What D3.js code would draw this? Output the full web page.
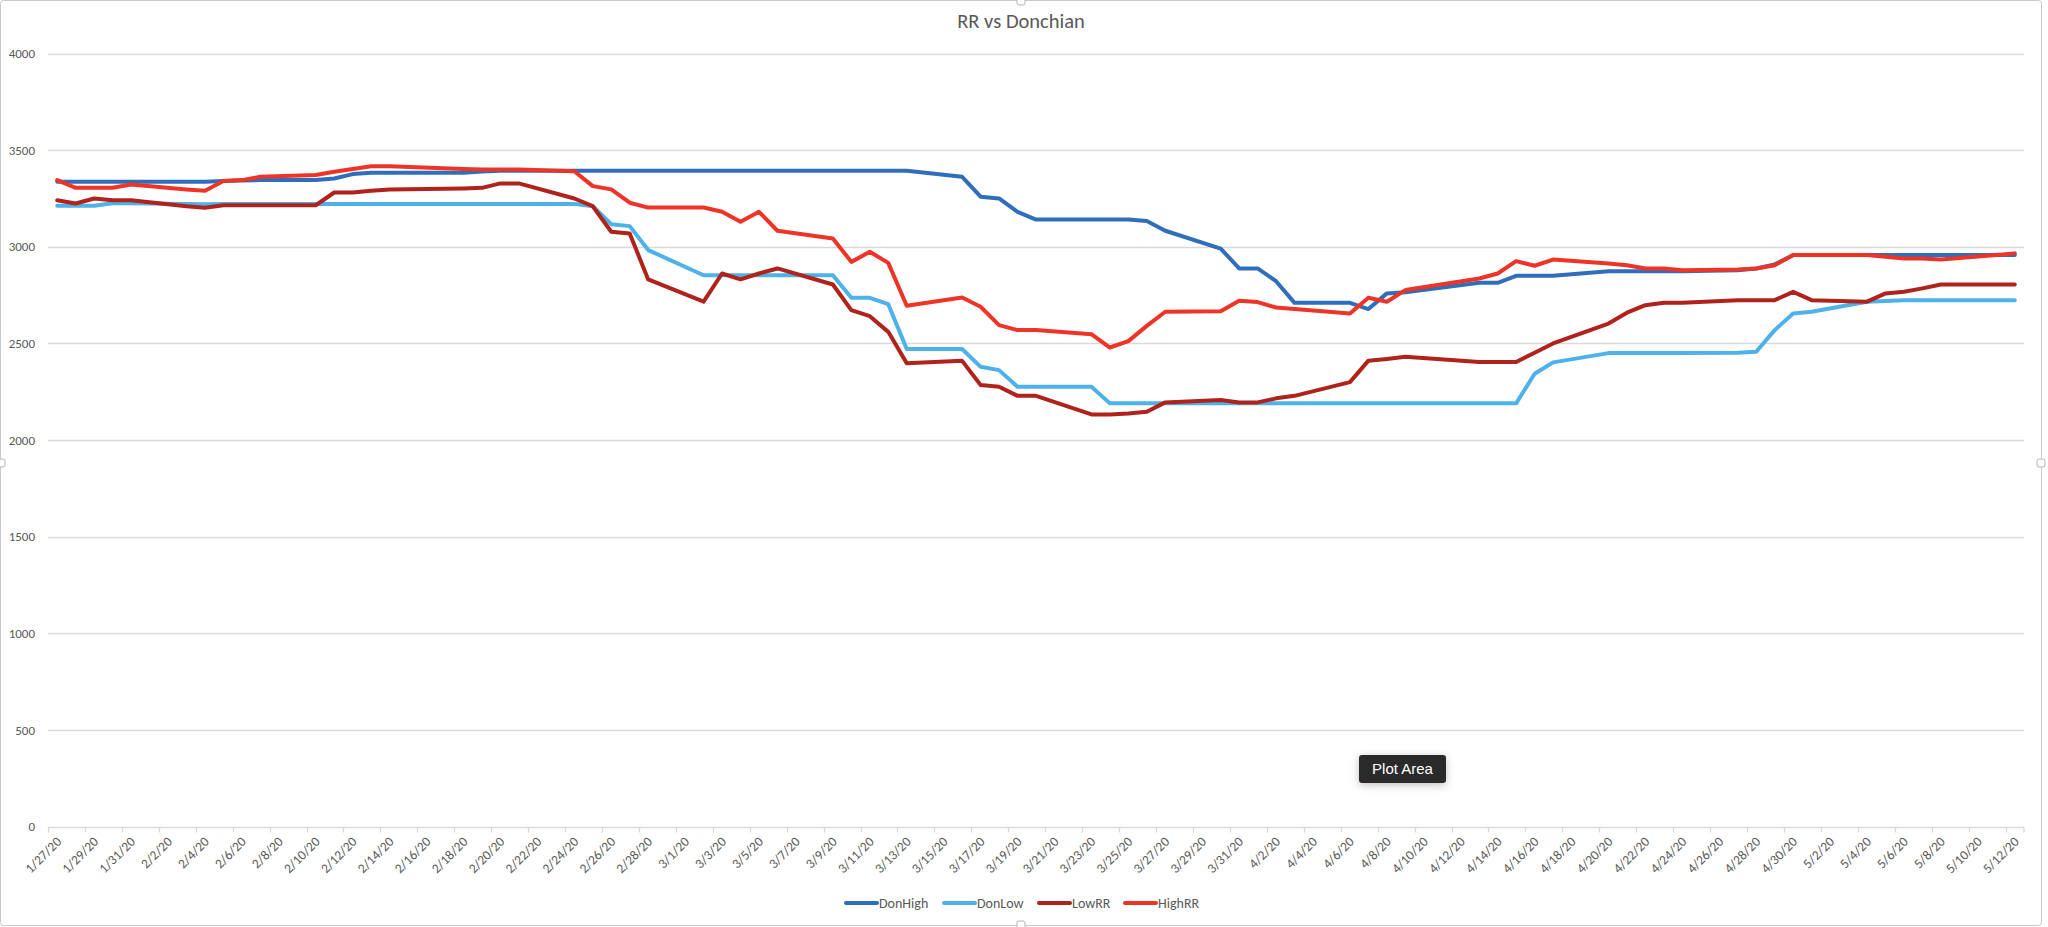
<!DOCTYPE html>
<html><head><meta charset="utf-8">
<script src="https://cdn.jsdelivr.net/npm/d3@7"></script>
<style>body{margin:0;background:#fff;} svg{display:block;}</style>
</head><body>
<script>
// ---- data ----
const dates = [
 "1/27/20","1/28/20","1/29/20","1/30/20","1/31/20",
 "2/3/20","2/4/20","2/5/20","2/6/20","2/7/20",
 "2/10/20","2/11/20","2/12/20","2/13/20","2/14/20",
 "2/18/20","2/19/20","2/20/20","2/21/20",
 "2/24/20","2/25/20","2/26/20","2/27/20","2/28/20",
 "3/2/20","3/3/20","3/4/20","3/5/20","3/6/20",
 "3/9/20","3/10/20","3/11/20","3/12/20","3/13/20",
 "3/16/20","3/17/20","3/18/20","3/19/20","3/20/20",
 "3/23/20","3/24/20","3/25/20","3/26/20","3/27/20",
 "3/30/20","3/31/20","4/1/20","4/2/20","4/3/20",
 "4/6/20","4/7/20","4/8/20","4/9/20",
 "4/13/20","4/14/20","4/15/20","4/16/20","4/17/20",
 "4/20/20","4/21/20","4/22/20","4/23/20","4/24/20",
 "4/27/20","4/28/20","4/29/20","4/30/20","5/1/20",
 "5/4/20","5/5/20","5/6/20","5/7/20","5/8/20",
 "5/11/20","5/12/20"
];
const donHigh = [
 3337,3337,3337,3337,3337,
 3337,3337,3340,3343,3345,
 3345,3353,3376,3383,3383,
 3383,3390,3393,3393,
 3393,3393,3393,3393,3393,
 3393,3393,3393,3393,3393,
 3393,3393,3393,3393,3393,
 3362,3259,3250,3181,3141,
 3141,3141,3141,3133,3083,
 2991,2888,2888,2822,2710,
 2710,2678,2759,2765,
 2814,2814,2850,2850,2850,
 2874,2874,2874,2874,2874,
 2879,2888,2909,2957,2957,
 2957,2957,2957,2957,2957,
 2957,2957
];
const donLow = [
 3212,3212,3212,3225,3225,
 3222,3220,3222,3222,3222,
 3222,3222,3222,3222,3222,
 3222,3222,3222,3222,
 3222,3210,3117,3107,2983,
 2853,2853,2853,2853,2853,
 2853,2736,2736,2703,2471,
 2471,2379,2362,2276,2276,
 2276,2190,2190,2190,2190,
 2190,2190,2190,2190,2190,
 2190,2190,2190,2190,
 2190,2190,2190,2343,2402,
 2450,2450,2450,2450,2450,
 2452,2457,2569,2655,2664,
 2716,2720,2724,2724,2724,
 2724,2724
];
const lowRR = [
 3241,3224,3250,3241,3241,
 3210,3202,3215,3215,3215,
 3215,3281,3281,3290,3297,
 3302,3305,3328,3328,
 3250,3210,3078,3069,2831,
 2716,2862,2831,2862,2888,
 2805,2672,2641,2560,2397,
 2410,2285,2276,2229,2229,
 2133,2133,2138,2147,2195,
 2207,2195,2195,2216,2229,
 2300,2411,2420,2431,
 2404,2404,2404,2452,2500,
 2603,2659,2698,2710,2710,
 2724,2724,2724,2767,2724,
 2716,2759,2767,2785,2805,
 2805,2805
];
const highRR = [
 3345,3305,3305,3305,3322,
 3297,3290,3340,3345,3362,
 3371,3388,3402,3417,3417,
 3402,3400,3400,3400,
 3391,3314,3297,3228,3203,
 3203,3181,3129,3181,3083,
 3043,2922,2974,2917,2695,
 2738,2690,2595,2569,2569,
 2548,2479,2512,2591,2664,
 2667,2721,2714,2686,2678,
 2655,2736,2716,2776,
 2836,2862,2926,2902,2934,
 2914,2905,2888,2888,2879,
 2883,2888,2905,2957,2957,
 2957,2948,2940,2940,2934,
 2957,2966
];
const tickLabels = [
 "1/27/20","1/29/20","1/31/20","2/2/20","2/4/20","2/6/20","2/8/20","2/10/20","2/12/20","2/14/20",
 "2/16/20","2/18/20","2/20/20","2/22/20","2/24/20","2/26/20","2/28/20","3/1/20","3/3/20","3/5/20",
 "3/7/20","3/9/20","3/11/20","3/13/20","3/15/20","3/17/20","3/19/20","3/21/20","3/23/20","3/25/20",
 "3/27/20","3/29/20","3/31/20","4/2/20","4/4/20","4/6/20","4/8/20","4/10/20","4/12/20","4/14/20",
 "4/16/20","4/18/20","4/20/20","4/22/20","4/24/20","4/26/20","4/28/20","4/30/20","5/2/20","5/4/20",
 "5/6/20","5/8/20","5/10/20","5/12/20"
];
const yTicks = [0,500,1000,1500,2000,2500,3000,3500,4000];
const seriesNames = ["DonHigh","DonLow","LowRR","HighRR"];
const seriesColors = ["#2F6EBA","#4EB2EA","#B0231C","#EE3427"];
const title = "RR vs Donchian";

// ---- chart ----
const W = 2048, H = 927;
const fmt = d3.timeFormat("%-m/%-d/%y");
const allDays = d3.timeDay.range(new Date(2020,0,27), new Date(2020,4,13)).map(fmt);
const x = d3.scaleBand().domain(allDays).range([48, 2024]).paddingInner(0).paddingOuter(0);
const y = d3.scaleLinear().domain([0,4000]).range([826.7, 53.5]);
const bw = x.bandwidth();
const textFont = "Calibri, Carlito, Lato, 'Open Sans', sans-serif";
const textColor = "#595959";

const svg = d3.select("body").append("svg").attr("width", W).attr("height", H);
svg.append("rect").attr("width", W).attr("height", H).attr("fill", "#fff");

// chart frame
svg.append("rect").attr("x",0.5).attr("y",0.5).attr("width",2041).attr("height",925)
  .attr("rx",3).attr("fill","none").attr("stroke","#c9c9c9").attr("stroke-width",1);

// gridlines
svg.append("g").selectAll("line").data(yTicks).join("line")
  .attr("x1", 48).attr("x2", 2024)
  .attr("y1", d => Math.round(y(d)) + 0.5).attr("y2", d => Math.round(y(d)) + 0.5)
  .attr("stroke", "#d9d9d9").attr("stroke-width", 1.3);

// y labels
svg.append("g").selectAll("text").data(yTicks).join("text")
  .attr("x", 35).attr("y", d => y(d)).attr("dy", "0.35em")
  .attr("text-anchor", "end").attr("font-family", textFont).attr("font-size", 13)
  .attr("fill", textColor).text(d => d);

// x tick marks
const y0 = Math.round(y(0)) + 0.5;
svg.append("g").selectAll("line").data(tickLabels.concat(["end"])).join("line")
  .attr("x1", d => d === "end" ? 2024 : Math.round(x(d)) + 0.5)
  .attr("x2", d => d === "end" ? 2024 : Math.round(x(d)) + 0.5)
  .attr("y1", y0).attr("y2", y0 + 5)
  .attr("stroke", "#d9d9d9").attr("stroke-width", 1.3);

// x labels
svg.append("g").selectAll("text").data(tickLabels).join("text")
  .attr("transform", d => `translate(${x(d) + bw/2 + 5},${y0 + 15}) rotate(-45)`)
  .attr("text-anchor", "end").attr("font-family", textFont).attr("font-size", 13.5)
  .attr("fill", textColor).text(d => d);

// lines
const seriesVals = [donHigh, donLow, lowRR, highRR];
const line = d3.line().x((d,i) => x(dates[i]) + bw/2).y(d => y(d));
svg.append("g").selectAll("path").data(seriesVals).join("path")
  .attr("d", d => line(d)).attr("fill", "none")
  .attr("stroke", (d,i) => seriesColors[i]).attr("stroke-width", 4)
  .attr("stroke-linejoin", "round").attr("stroke-linecap", "round");

// title
svg.append("text").attr("x", 1021).attr("y", 28).attr("text-anchor", "middle")
  .attr("font-family", textFont).attr("font-size", 20.5).attr("fill", textColor).text(title);

// legend
const legX = [846, 944, 1039, 1125];
const lg = svg.append("g").selectAll("g").data(seriesNames).join("g")
  .attr("transform", (d,i) => `translate(${legX[i]},903)`);
lg.append("line").attr("x1", 0).attr("x2", 31).attr("y1", 0).attr("y2", 0)
  .attr("stroke", (d,i) => seriesColors[i]).attr("stroke-width", 4).attr("stroke-linecap", "round");
lg.append("text").attr("x", 33).attr("y", 0).attr("dy", "0.35em")
  .attr("font-family", textFont).attr("font-size", 14).attr("fill", textColor).text(d => d);

// frame handles
const handles = [[1021,1],[1021,925],[1,463],[2041,463]];
svg.append("g").selectAll("rect").data(handles).join("rect")
  .attr("x", d => d[0]-4).attr("y", d => d[1]-4).attr("width", 8).attr("height", 8).attr("rx", 2)
  .attr("fill", "#fff").attr("stroke", "#b5b5b5");

// "Plot Area" tooltip
const defs = svg.append("defs");
const f = defs.append("filter").attr("id","sh").attr("x","-30%").attr("y","-50%").attr("width","160%").attr("height","200%");
f.append("feDropShadow").attr("dx",0).attr("dy",2).attr("stdDeviation",4).attr("flood-color","#000").attr("flood-opacity",0.25);
svg.append("rect").attr("x",1359).attr("y",755).attr("width",87).attr("height",28).attr("rx",3)
  .attr("fill","#2b2b2b").attr("filter","url(#sh)");
svg.append("text").attr("x",1402.5).attr("y",769).attr("dy","0.36em").attr("text-anchor","middle")
  .attr("font-family","'Liberation Sans', Arial, sans-serif").attr("font-size",15).attr("fill","#fff").text("Plot Area");
</script>
</body></html>
